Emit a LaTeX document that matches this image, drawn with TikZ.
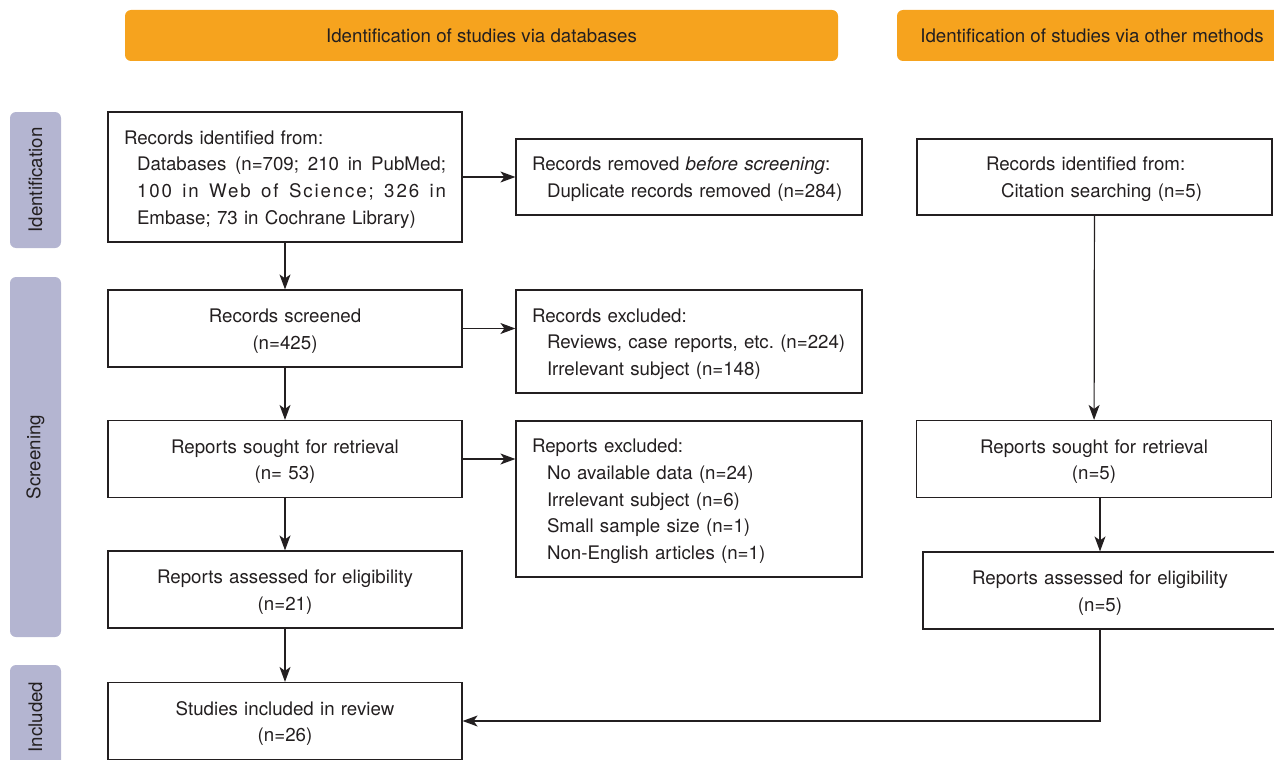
\documentclass[tikz,border=0pt]{standalone}
\usepackage{fontspec}
\setmainfont{TeX Gyre Heros}
\usetikzlibrary{arrows.meta,positioning}
\definecolor{prorange}{RGB}{246,163,30}
\definecolor{prlav}{RGB}{180,181,209}
\definecolor{prtext}{RGB}{35,31,32}
\newcommand{\boxend}{\endgraf\vspace{-5pt}}
\frenchspacing

\begin{document}
\begin{tikzpicture}[x=1pt,y=-1pt,
  every node/.style={font=\fontsize{18.7}{26.7}\selectfont,text=prtext},
  box/.style={draw=prtext,line width=1.2pt,minimum height=77pt,inner xsep=16pt,inner ysep=0pt,
    execute at end node=\boxend},
  lbox/.style={box,text width=#1,align=left},
  cbox/.style={box,text width=#1,align=center},
  head/.style={fill=prorange,rounded corners=6pt,minimum height=51pt,inner sep=0pt},
  phase/.style={fill=prlav,rounded corners=6pt,rotate=90,minimum height=51pt,inner sep=0pt},
  arr/.style={-{Stealth[length=15pt,width=11pt,inset=4pt]},line width=1.2pt,draw=prtext}]
\useasboundingbox (0,0) rectangle (1274,760);

% Headers
\node[head,minimum width=713pt] (hdb) at (481.5,35.5) {Identification of studies via databases};
\node[head,minimum width=390pt] (hoth) at (1092,35.5) {Identification of studies via other methods};

% Phases
\node[phase,minimum width=136pt] (pid) at (35.5,180) {Identification};
\node[phase,minimum width=360pt] (pscr) at (35.5,457) {Screening};
\node[phase,minimum width=104pt] (pinc) at (35.5,717) {Included};

% Databases: left column
\node[lbox=322pt,minimum height=130pt] (recid) at (285,177) {Records identified from:\\
  \hspace*{13pt}\makebox[309pt][l]{Databases\hfill (n=709;\hfill 210\hfill in\hfill PubMed;}\\
  \hspace*{13pt}\makebox[309pt][l]{\addfontfeature{LetterSpace=10}100\hfill in\hfill Web\hfill of\hfill Science;\hfill 326\hfill in}\\
  \hspace*{13pt}Embase; 73 in Cochrane Library)};
\node[cbox=322pt] (screened) at (285,328.5) {Records screened\\(n=425)};
\node[cbox=322pt] (sought) at (285,459) {Reports sought for retrieval\\(n= 53)};
\node[cbox=322pt] (assessed) at (285,589.5) {Reports assessed for eligibility\\(n=21)};
\node[cbox=322pt] (included) at (285,721) {Studies included in review\\(n=26)};

% Databases: exclusions
\node[lbox=314pt,minimum height=76pt] (removed) at (689,177) {Records removed \textit{before screening}:\\
  \hspace*{15pt}\mbox{Duplicate records removed (n=284)}};
\node[lbox=314pt,minimum height=103pt] (excl) at (689,341.5) {Records excluded:\\
  \hspace*{15pt}\mbox{Reviews, case reports, etc. (n=224)}\\
  \hspace*{15pt}\mbox{Irrelevant subject (n=148)}};
\node[lbox=314pt,minimum height=156pt] (rexcl) at (689,499) {Reports excluded:\\
  \hspace*{15pt}No available data (n=24)\\
  \hspace*{15pt}Irrelevant subject (n=6)\\
  \hspace*{15pt}Small sample size (n=1)\\
  \hspace*{15pt}Non-English articles (n=1)};

% Other methods
\node[lbox=323pt,minimum height=76pt] (otherid) at (1094.5,177) {\hspace*{53pt}Records identified from:\\
  \hspace*{68pt}\mbox{Citation searching (n=5)}};
\node[cbox=323pt] (othersought) at (1094,459) {Reports sought for retrieval\\(n=5)};
\node[cbox=322pt] (otherass) at (1100,590.5) {Reports assessed for eligibility\\(n=5)};

% Arrows
\draw[arr] (recid) -- (removed);
\draw[arr] (recid) -- (screened);
\draw[arr] (screened.east) -- (screened.east -| excl.west);
\draw[arr] (screened) -- (sought);
\draw[arr] (sought.east) -- (sought.east -| rexcl.west);
\draw[arr] (sought) -- (assessed);
\draw[arr] (assessed) -- (included);
\draw[arr] (otherid) -- (othersought);
\draw[arr] (otherass.north |- othersought.south) -- (otherass.north);
\draw[arr] (otherass.south) |- (included.east);
\end{tikzpicture}
\end{document}
